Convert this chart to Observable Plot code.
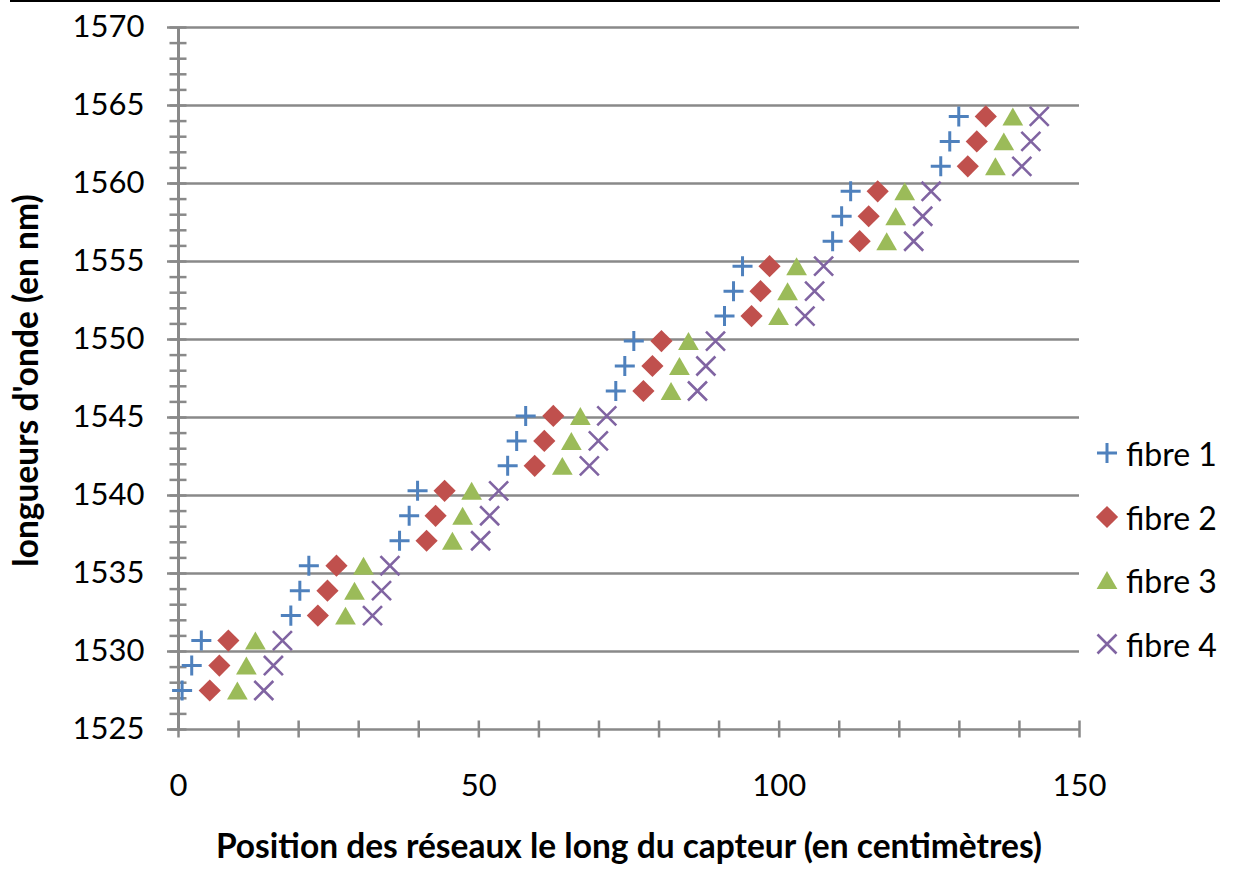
<!DOCTYPE html>
<html>
<head>
<meta charset="utf-8">
<script src="https://cdn.jsdelivr.net/npm/d3@7"></script>
<script src="https://cdn.jsdelivr.net/npm/@observablehq/plot@0.6"></script>
<style>
  html, body { margin: 0; padding: 0; background: #fff; }
  #wrap { position: relative; width: 1234px; height: 873px; overflow: hidden; font-family: Lato, "Open Sans", sans-serif; }
  #wrap > svg { position: absolute; left: 0; top: 0; }
  #topline { position: absolute; left: 10px; top: 0; width: 1210px; height: 2px; background: #000; z-index: 2; }
  #legend { position: absolute; left: 1093px; top: 0; z-index: 2; }
  .lg { position: absolute; left: 0; display: flex; align-items: center; font-size: 32px; color: #000; white-space: nowrap; }
  .lg svg { display: block; margin-right: 5px; }
</style>
</head>
<body>
<div id="wrap"><div id="topline"></div><div id="legend"></div></div>
<script>
// Wavelengths of the gratings (nm), identical for the four fibres
const wavelengths = [1527.5, 1529.1, 1530.7, 1532.3, 1533.9, 1535.5, 1537.1, 1538.7, 1540.3,
  1541.9, 1543.5, 1545.1, 1546.7, 1548.3, 1549.9, 1551.5, 1553.1, 1554.7,
  1556.3, 1557.9, 1559.5, 1561.1, 1562.7, 1564.3];
// Positions along the sensor (cm)
const fibre1Pos = [0.6, 2.2, 3.8, 18.7, 20.2, 21.7, 36.8, 38.4, 39.8, 54.8, 56.3, 57.8,
  72.8, 74.3, 75.8, 90.9, 92.4, 93.9, 108.9, 110.4, 111.9, 126.9, 128.4, 129.9];
const fibre2Pos = [5.2, 6.8, 8.3, 23.2, 24.8, 26.3, 41.3, 42.8, 44.3, 59.3, 60.9, 62.4,
  77.4, 78.9, 80.4, 95.4, 96.9, 98.4, 113.4, 114.9, 116.4, 131.4, 132.9, 134.4];
const fibre3Pos = [9.8, 11.3, 12.8, 27.8, 29.3, 30.8, 45.6, 47.3, 48.8, 63.9, 65.4, 66.9,
  82.0, 83.4, 84.9, 99.9, 101.4, 102.9, 117.9, 119.4, 120.9, 136.0, 137.4, 138.9];
const fibre4Pos = [14.2, 15.8, 17.3, 32.3, 33.8, 35.2, 50.3, 51.8, 53.3, 68.4, 69.9, 71.3,
  86.4, 87.8, 89.4, 104.3, 105.9, 107.4, 122.4, 123.9, 125.3, 140.4, 141.9, 143.3];
const seriesNames = ["fibre 1", "fibre 2", "fibre 3", "fibre 4"];
const xTickLabels = [0, 50, 100, 150];
const yTickLabels = [1525, 1530, 1535, 1540, 1545, 1550, 1555, 1560, 1565, 1570];
const xMinorTicks = d3.range(0, 151, 10);
const yMinorTicks = d3.range(1525, 1571, 1);
const xTitle = ["Position des réseaux le long du capteur (en centimètres)"];
const yTitle = ["longueurs d'onde (en nm)"];

const colors = ["#4F81BD", "#C0504D", "#9BBB59", "#8064A2"];
const gray = "#898989";
const toRows = (pos) => pos.map((p, i) => ({x: p, y: wavelengths[i]}));
const noText = () => "";
const plain = (d) => String(d);

// marker radii (Plot r) chosen so the drawn glyphs are ~20px across
const rPlus = 6.5, rDiamond = 10, rTriangle = 7.7, rTimes = 8.7;

const chart = Plot.plot({
  width: 1234,
  height: 873,
  marginLeft: 178,
  marginRight: 155,
  marginTop: 27,
  marginBottom: 144,
  x: {domain: [0, 150]},
  y: {domain: [1525, 1570]},
  style: {fontFamily: "Lato, 'Open Sans', sans-serif", color: "#000", background: "transparent", overflow: "visible"},
  marks: [
    Plot.gridY(yTickLabels, {stroke: gray, strokeOpacity: 1, strokeWidth: 2.5}),
    Plot.ruleX([0], {stroke: gray, strokeWidth: 3}),
    Plot.axisY(yMinorTicks, {tickSize: 17, dx: 8.5, tickFormat: noText, label: null, stroke: gray, strokeWidth: 2.5, strokeOpacity: 1}),
    Plot.axisY(yTickLabels, {tickSize: 11, tickFormat: noText, label: null, stroke: gray, strokeWidth: 2.5, strokeOpacity: 1}),
    Plot.axisY(yTickLabels, {tickSize: 0, tickPadding: 34, fontSize: 31, label: null, fill: "#000", tickFormat: plain}),
    Plot.axisX(xMinorTicks, {tickSize: 17, dy: -8.5, tickFormat: noText, label: null, stroke: gray, strokeWidth: 2.5, strokeOpacity: 1}),
    Plot.axisX(xTickLabels, {tickSize: 0, tickPadding: 44, fontSize: 31, label: null, fill: "#000", tickFormat: plain}),
    Plot.text(yTitle, {frameAnchor: "left", textAnchor: "middle", rotate: -90, dx: -151, dy: 2, fontSize: 33.5, fontWeight: "bold", fill: "#000"}),
    Plot.text(xTitle, {frameAnchor: "bottom", textAnchor: "middle", dy: 128, fontSize: 33.5, fontWeight: "bold", fill: "#000"}),
    Plot.dot(toRows(fibre1Pos), {x: "x", y: "y", symbol: "plus", r: rPlus, stroke: colors[0], strokeWidth: 3, fill: "none"}),
    Plot.dot(toRows(fibre2Pos), {x: "x", y: "y", symbol: "diamond2", r: rDiamond, fill: colors[1], stroke: "none"}),
    Plot.dot(toRows(fibre3Pos), {x: "x", y: "y", symbol: "triangle", r: rTriangle, dy: 3, fill: colors[2], stroke: "none"}),
    Plot.dot(toRows(fibre4Pos), {x: "x", y: "y", symbol: "times", r: rTimes, stroke: colors[3], strokeWidth: 2.6, fill: "none"})
  ]
});
document.getElementById("wrap").appendChild(chart);

// Legend
const legendSymbols = [
  {sym: d3.symbolPlus, r: rPlus, stroke: colors[0], fill: "none", sw: 3},
  {sym: d3.symbolDiamond2, r: rDiamond, stroke: "none", fill: colors[1], sw: 0},
  {sym: d3.symbolTriangle, r: rTriangle, stroke: "none", fill: colors[2], sw: 0, dy: 3},
  {sym: d3.symbolTimes, r: rTimes, stroke: colors[3], fill: "none", sw: 2.6}
];
const legendTops = [453, 517, 580, 644];
const legend = document.getElementById("legend");
seriesNames.forEach((name, i) => {
  const s = legendSymbols[i];
  const row = document.createElement("div");
  row.className = "lg";
  row.style.top = (legendTops[i] - 20) + "px";
  row.style.height = "40px";
  const path = d3.symbol(s.sym, Math.PI * s.r * s.r)();
  row.innerHTML = `<svg width="28" height="28" viewBox="-14 -14 28 28"><path d="${path}" transform="translate(0,${s.dy || 0})" fill="${s.fill}" stroke="${s.stroke}" stroke-width="${s.sw}"/></svg><span>${name}</span>`;
  legend.appendChild(row);
});
</script>
</body>
</html>
